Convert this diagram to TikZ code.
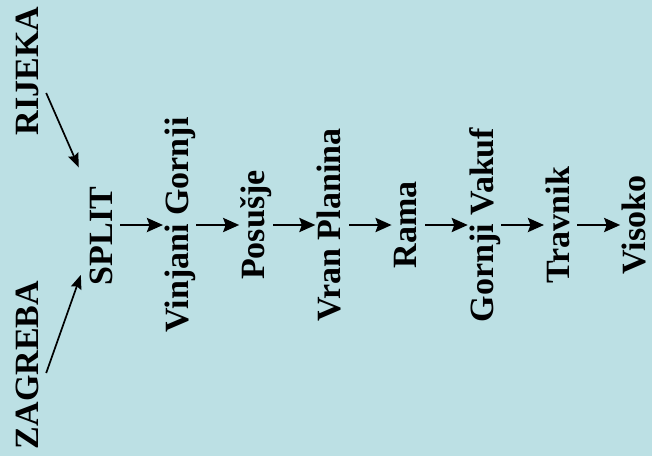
\documentclass[tikz,border=0pt]{standalone}
\usepackage{fontspec}
\setmainfont{Liberation Serif}
\usetikzlibrary{arrows.meta,positioning}
\definecolor{mapblue}{RGB}{188,224,228}
\tikzset{town style/.style={
		rotate=90,
		text=black,
		font=\fontsize{34}{40}\selectfont\bfseries,
		text height=24pt,
		text depth=7pt,
		inner sep=1pt,
	},
	road style/.style={
		{Stealth[length=16pt,width=14pt,inset=2.5pt]}-,
		line width=2.6pt,
	},
	feed style/.style={
		-{Stealth[length=14pt,width=11pt,inset=2pt]},
		line width=1.7pt,
	}
}
\begin{document}
\begin{tikzpicture}[x=1pt,y=-1pt,node distance=76.2pt]
	\useasboundingbox (0,0) rectangle (652,456);
	\fill[mapblue] (0,0) rectangle (652,456);
	
	\node[town style, anchor=base] (RIJEKA) at (38,71) {RIJEKA};
	\node[town style, anchor=base] (ZAGREBA) at (38,365) {ZAGREBA};
	\node[town style, anchor=base] (SPLIT) at (112,236) {SPLIT};
	
	\draw[feed style, shorten >=20pt] ([yshift=-22pt]RIJEKA.south) -- (SPLIT.north east);
	\draw[feed style, shorten >=18pt] ([yshift=-8pt]ZAGREBA.south) -- ([yshift=-22pt]SPLIT.north);
	
	\node[right of=SPLIT, yshift=11pt, town style] (Vinjani) {Vinjani Gornji};
	\draw[road style] (Vinjani) -- (SPLIT.south |- Vinjani);
	
	\node[right of=Vinjani, town style] (Posusje) {Posušje}
	edge [road style] (Vinjani);
	
	\node[right of=Posusje, town style] (Vran) {Vran Planina}
	edge [road style] (Posusje);
	
	\node[right of=Vran, town style] (Rama) {Rama}
	edge [road style] (Vran);
	
	\node[right of=Rama, town style] (Gornji) {Gornji Vakuf}
	edge [road style] (Rama);
	
	\node[right of=Gornji, town style] (Travnik) {Travnik}
	edge [road style] (Gornji);
	
	\node[right of=Travnik, town style] (Visoko) {Visoko}
	edge [road style] (Travnik);
\end{tikzpicture}
\end{document}
